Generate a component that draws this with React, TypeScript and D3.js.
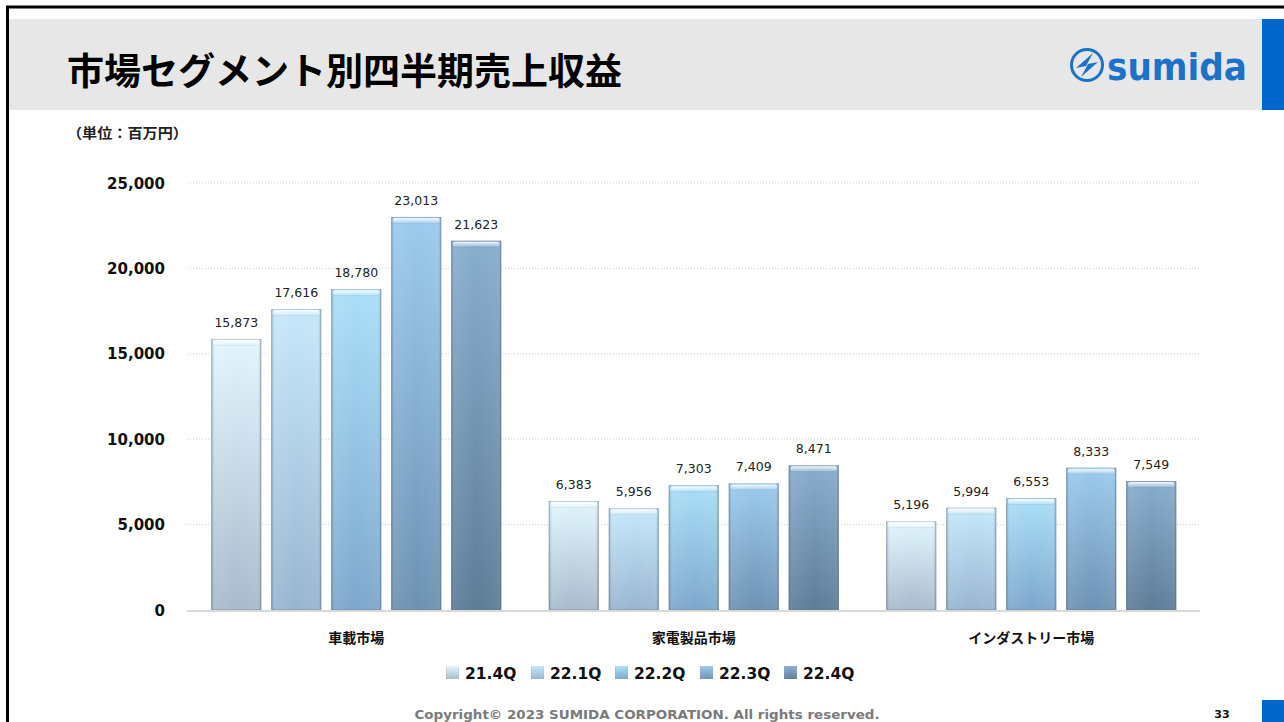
import React from 'react';
import * as d3 from 'd3';

// Market segments and quarterly revenue (million yen)
const categories = ['車載市場', '家電製品市場', 'インダストリー市場'];
const quarters = ['21.4Q', '22.1Q', '22.2Q', '22.3Q', '22.4Q'];
const automotive = [15873, 17616, 18780, 23013, 21623];
const consumer = [6383, 5956, 7303, 7409, 8471];
const industry = [5196, 5994, 6553, 8333, 7549];
const yTicks = [0, 5000, 10000, 15000, 20000, 25000];

const seriesValues = [automotive, consumer, industry];

// per-quarter bar shading: [top, bottom]
const barColors: [string, string][] = [
  ['#e2f6fe', '#a8bacb'],
  ['#c6e8fb', '#98b5d0'],
  ['#aadff8', '#7da7cc'],
  ['#9ccbee', '#6d91b2'],
  ['#88adce', '#5d7c97'],
];

const numFmt = d3.format(',');

export default function App() {
  const W = 1284;
  const H = 722;

  const x0 = d3.scaleBand<string>().domain(categories).range([187.5, 1200]);
  const x1 = d3
    .scaleBand<string>()
    .domain(quarters)
    .range([0, x0.bandwidth()])
    .paddingInner(1 / 6)
    .paddingOuter(0.396);
  const y = d3.scaleLinear().domain([0, 25000]).range([610, 183]);

  const jp = '"Noto Sans CJK JP", "DejaVu Sans", sans-serif';
  const num = '"DejaVu Sans", Verdana, sans-serif';

  const legendX = [446, 531, 615, 700, 784];

  return (
    <div style={{ position: 'absolute', left: 0, top: 0 }}>
      <svg width={W} height={H} viewBox={`0 0 ${W} ${H}`} style={{ display: 'block', background: '#fff' }}>
        <defs>
          {barColors.map((c, i) => (
            <linearGradient key={i} id={`bar-${i}`} x1="0" y1="0" x2="0" y2="1">
              <stop offset="0%" stopColor={c[0]} />
              <stop offset="100%" stopColor={c[1]} />
            </linearGradient>
          ))}
          <linearGradient id="bevel" x1="0" y1="0" x2="1" y2="0">
            <stop offset="0%" stopColor="#3c5468" stopOpacity={0.35} />
            <stop offset="8%" stopColor="#ffffff" stopOpacity={0.08} />
            <stop offset="50%" stopColor="#ffffff" stopOpacity={0} />
            <stop offset="92%" stopColor="#ffffff" stopOpacity={0.05} />
            <stop offset="100%" stopColor="#3c5468" stopOpacity={0.35} />
          </linearGradient>
          <linearGradient id="cap" x1="0" y1="0" x2="0" y2="1">
            <stop offset="0%" stopColor="#ffffff" stopOpacity={0.9} />
            <stop offset="100%" stopColor="#ffffff" stopOpacity={0.15} />
          </linearGradient>
        </defs>

        {/* slide frame */}
        <rect x={7.5} y={7} width={W} height={H} fill="none" stroke="#000" strokeWidth={3} />
        <rect x={9} y={19} width={1253} height={91} fill="#e7e7e7" />
        <rect x={1262} y={19} width={22} height={91} fill="#0066cc" />
        <rect x={1262} y={700} width={22} height={22} fill="#0066cc" />

        {/* title */}
        <text x={67} y={85} fontFamily={jp} fontWeight={700} fontSize={37} fill="#000"
          textLength={555} lengthAdjust="spacingAndGlyphs">
          市場セグメント別四半期売上収益
        </text>

        {/* logo */}
        <g>
          <circle cx={1087} cy={65} r={15.5} fill="none" stroke="#1a73c9" strokeWidth={3} />
          <path d="M1076,68 L1093,53 L1086,66 Z" fill="#1a73c9" />
          <path d="M1098,62 L1081,77 L1088,64 Z" fill="#1a73c9" />
          <text x={1107} y={80} fontFamily={num} fontWeight={700} fontSize={38} fill="#1a73c9"
            textLength={140} lengthAdjust="spacingAndGlyphs">
            sumida
          </text>
        </g>

        {/* unit */}
        <text x={67} y={138} fontFamily={jp} fontWeight={700} fontSize={14} fill="#222"
          textLength={121} lengthAdjust="spacingAndGlyphs">
          （単位：百万円）
        </text>

        {/* grid */}
        {yTicks.map((t) => (
          <g key={t}>
            {t > 0 && (
              <line x1={187} x2={1200} y1={y(t)} y2={y(t)} stroke="#cfcfcf" strokeWidth={1} strokeDasharray="1,2" />
            )}
            <text x={165} y={y(t) + 5.5} textAnchor="end" fontFamily={num} fontWeight={700} fontSize={15} fill="#111">
              {numFmt(t)}
            </text>
          </g>
        ))}

        {/* bars */}
        {categories.map((cat, ci) => (
          <g key={cat} transform={`translate(${x0(cat)},0)`}>
            {quarters.map((q, qi) => {
              const v = seriesValues[ci][qi];
              const bx = x1(q)!;
              const bw = x1.bandwidth();
              const top = y(v);
              const h = y(0) - top;
              return (
                <g key={q}>
                  <rect x={bx} y={top} width={bw} height={h} fill={`url(#bar-${qi})`} />
                  <rect x={bx} y={top} width={bw} height={h} fill="url(#bevel)" />
                  <rect x={bx + 0.5} y={top + 0.5} width={bw - 1} height={h - 1} fill="none" stroke="#5c7488" strokeOpacity={0.3} />
                  <rect x={bx + 1.5} y={top + 1} width={bw - 3} height={5} rx={2.5} fill="url(#cap)" />
                  <line x1={bx + 3} x2={bx + bw - 3} y1={top + 6.5} y2={top + 6.5} stroke="#6f8ca5" strokeOpacity={0.15} />
                  <text x={bx + bw / 2} y={top - 12} textAnchor="middle" fontFamily={num} fontSize={12.5} fill="#222">
                    {numFmt(v)}
                  </text>
                </g>
              );
            })}
            <text x={x0.bandwidth() / 2} y={643} textAnchor="middle" fontFamily={jp} fontWeight={700} fontSize={14} fill="#111">
              {cat}
            </text>
          </g>
        ))}

        {/* baseline */}
        <line x1={187} x2={1200} y1={y(0) + 1} y2={y(0) + 1} stroke="#d9d9d9" strokeWidth={2} />

        {/* legend */}
        {quarters.map((q, qi) => (
          <g key={q} transform={`translate(${legendX[qi]},666)`}>
            <rect x={0} y={0} width={13} height={13} fill={`url(#bar-${qi})`} />
            <rect x={0} y={0} width={13} height={13} fill="url(#bevel)" />
            <text x={19} y={12.5} fontFamily={num} fontWeight={700} fontSize={15.5} fill="#111">
              {q}
            </text>
          </g>
        ))}

        {/* footer */}
        <text x={647} y={719} textAnchor="middle" fontFamily={num} fontWeight={700} fontSize={12.5} fill="#7a7a7a"
          textLength={465} lengthAdjust="spacingAndGlyphs">
          Copyright© 2023 SUMIDA CORPORATION. All rights reserved.
        </text>
        <text x={1222} y={718} textAnchor="middle" fontFamily={num} fontWeight={700} fontSize={11} fill="#111">
          33
        </text>
      </svg>
    </div>
  );
}
